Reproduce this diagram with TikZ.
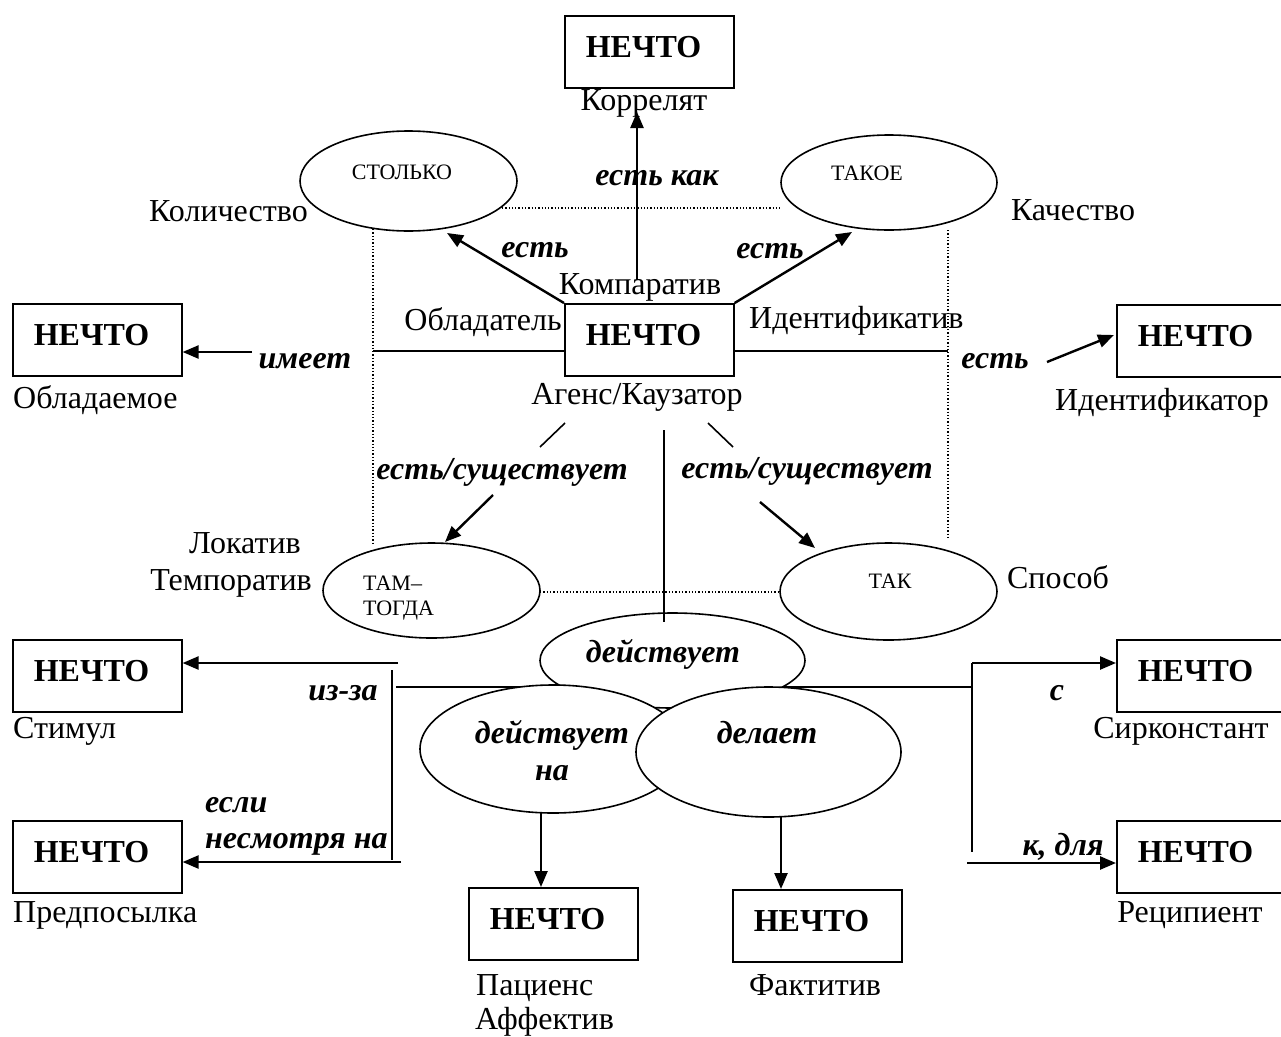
\documentclass[tikz,border=0pt]{standalone}
\usepackage{fontspec}
\setmainfont{Liberation Serif}
\usetikzlibrary{shapes.geometric,arrows.meta}
\newcommand\nechto{\makebox[127pt][l]{\bfseries НЕЧТО}}
\begin{document}
\begin{tikzpicture}[x=1pt,y=-1pt,
  every node/.style={inner sep=0pt, font=\fontsize{32}{37}\selectfont},
  txt/.style={anchor=base},
  txtw/.style={anchor=base west},
  role/.style={anchor=base, font=\fontsize{32}{37}\selectfont\bfseries\itshape},
  rolew/.style={anchor=base west, font=\fontsize{32}{37}\selectfont\bfseries\itshape},
  sm/.style={anchor=base, font=\fontsize{22}{26}\selectfont},
  smw/.style={anchor=base west, font=\fontsize{22}{26}\selectfont},
  box/.style={draw, line width=1.6pt, anchor=north west, minimum height=72pt, inner xsep=21pt, inner ysep=0pt, text height=21pt, text depth=10pt},
  ell/.style={draw, ellipse, line width=1.6pt, fill=white, inner sep=0pt},
  ln/.style={line width=1.6pt},
  arr/.style={line width=2.4pt, -{Triangle[length=16pt,width=13pt]}},
  dots/.style={line width=1.3pt, dotted}
]
\useasboundingbox (0,0) rectangle (1281,1036);
\clip (0,0) rectangle (1281,1036);
\fill[white] (0,0) rectangle (1281,1036);

% ---------- boxes
\node[box] (bTop) at (564,15) {\nechto};
\node[box] (bCen) at (564,303) {\nechto};
\node[box] (bObl) at (12,303) {\nechto};
\node[box] (bIdf) at (1116,304) {\nechto};
\node[box] (bStim) at (12,639) {\nechto};
\node[box] (bPred) at (12,820) {\nechto};
\node[box] (bSirk) at (1116,639) {\nechto};
\node[box] (bRec) at (1116,820) {\nechto};
\node[box] (bPac) at (468,887) {\nechto};
\node[box] (bFak) at (732,889) {\nechto};

% ---------- coordinates
\coordinate (dTopA) at (492,208);
\coordinate (dTopB) at (780,208);
\coordinate (dLA) at (373,229);
\coordinate (dLB) at (373,543);
\coordinate (dRA) at (948,230);
\coordinate (dRB) at (948,538);
\coordinate (dBotA) at (540,592);
\coordinate (dBotB) at (780,592);
\coordinate (hL) at (373,351);
\coordinate (hR) at (948,351);
\coordinate (kA) at (637,280);
\coordinate (kB) at (637,112);
\coordinate (eL) at (447,233);
\coordinate (eR) at (852,232);
\coordinate (im1) at (252,352);
\coordinate (id1) at (1047,362);
\coordinate (id2) at (1114,335);
\coordinate (sl1) at (565,423);
\coordinate (sl2) at (540,447);
\coordinate (sr1) at (708,423);
\coordinate (sr2) at (733,447);
\coordinate (al1) at (493,495);
\coordinate (al2) at (445,542);
\coordinate (ar1) at (760,502);
\coordinate (ar2) at (815,548);
\coordinate (vc1) at (664,430);
\coordinate (vc2) at (664,622);
\coordinate (hb1) at (396,687);
\coordinate (hb2) at (972,687);
\coordinate (vl1) at (392,670);
\coordinate (vl2) at (392,860);
\coordinate (st1) at (398,663);
\coordinate (pr1) at (401,862);
\coordinate (vr1) at (972,663);
\coordinate (vr2) at (972,852);
\coordinate (re1) at (967,863);
\coordinate (pa1) at (541,813);
\coordinate (fa1) at (781,817);

% ---------- dotted guides
\draw[dots] (dTopA) -- (dTopB);
\draw[dots] (dLA) -- (dLB);
\draw[dots] (dRA) -- (dRB);
\draw[dots] (dBotA) -- (dBotB);

% ---------- plain lines
\draw[ln] (hL) -- (hL -| bCen.west);
\draw[ln] (hR -| bCen.east) -- (hR);
\draw[ln] (hb1) -- (hb2);
\draw[ln] (vl1) -- (vl2);
\draw[ln] (vr1) -- (vr2);
\draw[ln] (sl1) -- (sl2);
\draw[ln] (sr1) -- (sr2);

% ---------- ellipses
\node[ell, minimum width=217pt, minimum height=100pt] (eStol) at (408.5,181) {};
\node[ell, minimum width=216pt, minimum height=95pt] (eTak) at (889,182.5) {};
\node[ell, minimum width=217pt, minimum height=95pt] (eTam) at (431.5,590.5) {};
\node[ell, minimum width=217pt, minimum height=97pt] (eSpos) at (888.5,591.5) {};
\node[ell, minimum width=265pt, minimum height=95pt] (eDej) at (672.5,660.5) {};
\node[ell, minimum width=266pt, minimum height=128pt] (eDejNa) at (553,749) {};
\node[ell, minimum width=265pt, minimum height=130pt] (eDel) at (768.5,752) {};

\draw[ln] (vc1) -- (vc2);

% ---------- arrows
\draw[arr] (kA) -- (kB);
\draw[arr] (bCen.north west) -- (eL);
\draw[arr] (bCen.north east) -- (eR);
\draw[arr] (im1) -- (im1 -| bObl.east);
\draw[arr] (id1) -- (id2);
\draw[arr] (al1) -- (al2);
\draw[arr] (ar1) -- (ar2);
\draw[arr] (st1) -- (st1 -| bStim.east);
\draw[arr] (pr1) -- (pr1 -| bPred.east);
\draw[arr] (vr1) -- (vr1 -| bSirk.west);
\draw[arr] (re1) -- (re1 -| bRec.west);
\draw[arr] (pa1) -- (pa1 |- bPac.north);
\draw[arr] (fa1) -- (fa1 |- bFak.north);

% ---------- ellipse texts
\node[sm] (tStol) at (402,179) {СТОЛЬКО};
\node[sm] (tTak) at (867,180) {ТАКОЕ};
\node[smw] (tTam) at (363,590) {ТАМ–};
\node[smw] (tTogda) at (363,615) {ТОГДА};
\node[sm] (tTakk) at (890,588) {ТАК};
\node[role] (tDej) at (663,662) {действует};
\node[role] (tDejNa1) at (552,743) {действует};
\node[role] (tDejNa2) at (552,780) {на};
\node[role] (tDel) at (767,743) {делает};

% ---------- role labels
\node[txt] (lKorr) at (644,110) {Коррелят};
\node[role] (lEstKak) at (657,185) {есть как};
\node[txtw] (lKol) at (149,221) {Количество};
\node[txt] (lKach) at (1073,220) {Качество};
\node[role] (lEstL) at (535,257) {есть};
\node[role] (lEstR) at (770,258) {есть};
\node[txt] (lKomp) at (640,294) {Компаратив};
\node[txt] (lObl) at (483,330) {Обладатель};
\node[txtw] (lIdfv) at (749,328) {Идентификатив};
\node[txt] (lAgens) at (637,404) {Агенс/Каузатор};
\node[txtw] (lOblm) at (13,408) {Обладаемое};
\node[txtw] (lIdfr) at (1055,410) {Идентификатор};
\node[role] (lImeet) at (305,368) {имеет};
\node[role] (lEstI) at (995,368) {есть};
\node[role] (lSushL) at (502,479) {есть/существует};
\node[role] (lSushR) at (807,478) {есть/существует};
\node[txt] (lLok) at (245,553) {Локатив};
\node[txt] (lTemp) at (231,590) {Темпоратив};
\node[txt] (lSpos) at (1058,588) {Способ};
\node[role] (lIzza) at (343,700) {из-за};
\node[txtw] (lStim) at (13,738) {Стимул};
\node[role] (lS) at (1057,700) {с};
\node[txt] (lSirk) at (1181,738) {Сирконстант};
\node[rolew] (lEsli) at (205,812) {если};
\node[rolew] (lNesm) at (205,848) {несмотря на};
\node[role] (lKdla) at (1063,855) {к, для};
\node[txtw] (lPred) at (13,922) {Предпосылка};
\node[txt] (lRec) at (1190,922) {Реципиент};
\node[txtw] (lPac) at (476,995) {Пациенс};
\node[txtw] (lAff) at (475,1029) {Аффектив};
\node[txt] (lFak) at (815,995) {Фактитив};
\end{tikzpicture}
\end{document}
